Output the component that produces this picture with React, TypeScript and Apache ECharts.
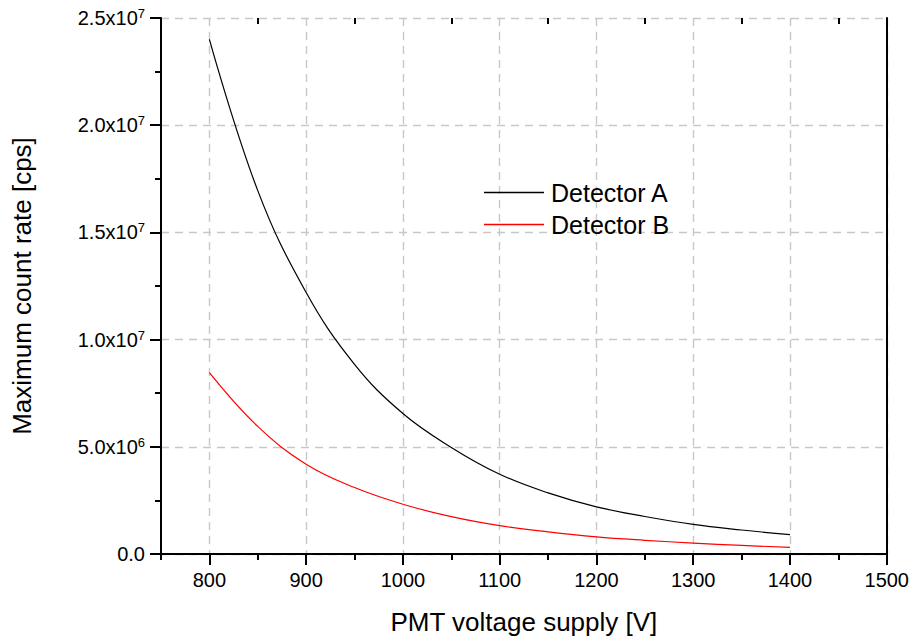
import React, { useEffect, useRef } from "react";
import * as echarts from "echarts";

const voltages = [800, 850, 900, 950, 1000, 1050, 1100, 1150, 1200, 1250, 1300, 1350, 1400];
const detectorA = [24.0e6, 16.95e6, 12.2e6, 8.85e6, 6.55e6, 4.97e6, 3.72e6, 2.85e6, 2.2e6, 1.75e6, 1.38e6, 1.12e6, 0.9e6];
const detectorB = [8.46e6, 5.95e6, 4.19e6, 3.1e6, 2.32e6, 1.74e6, 1.32e6, 1.03e6, 0.8e6, 0.64e6, 0.51e6, 0.4e6, 0.31e6];

const xMajorTicks = [800, 900, 1000, 1100, 1200, 1300, 1400, 1500];
const xMinorTicks = [750, 850, 950, 1050, 1150, 1250, 1350, 1450];
const yMajorTicks = [0, 5e6, 1e7, 1.5e7, 2e7, 2.5e7];
const yMinorTicks = [2.5e6, 7.5e6, 1.25e7, 1.75e7, 2.25e7];

const seriesNames = ["Detector A", "Detector B"];
const seriesColors = ["#000000", "#ff0000"];
const FONT = "Arial, 'Liberation Sans', sans-serif";

function yLabel(v: number): string {
  if (v === 0) return "0.0";
  const exp = Math.floor(Math.log10(v) + 1e-9);
  const mant = v / Math.pow(10, exp);
  return `{b|${mant.toFixed(1)}x10}{s|${exp}}`;
}

function curveSeries(name: string, values: number[], color: string) {
  return {
    name,
    type: "custom",
    coordinateSystem: "cartesian2d",
    xAxisIndex: 0,
    yAxisIndex: 0,
    data: voltages.map((v, i) => [v, values[i]]),
    itemStyle: { color },
    silent: true,
    renderItem: (params: any, api: any) => {
      if (params.dataIndex !== 0) return null;
      const pts = voltages.map((v, i) => api.coord([v, values[i]]));
      return {
        type: "polyline",
        shape: { points: pts, smooth: 0.4 },
        style: { stroke: color, lineWidth: 1.2, fill: null },
      };
    },
  };
}

export default function App() {
  const ref = useRef<HTMLDivElement>(null);
  useEffect(() => {
    if (!ref.current) return;
    const chart = echarts.init(ref.current, null, { renderer: "svg" });
    const axisLine = { show: true, lineStyle: { color: "#000", width: 2 } };
    const tickStyle = { color: "#000", width: 2 };
    const splitDashed = { show: true, lineStyle: { color: "#c8c8c8", width: 1.4, type: [8, 6] as any } };
    const option: any = {
      animation: false,
      backgroundColor: "#fff",
      grid: { left: 161, right: 25, top: 18, bottom: 85 },
      legend: {
        orient: "vertical",
        left: 479,
        top: 175,
        icon: "rect",
        itemWidth: 60,
        itemHeight: 1.5,
        itemGap: 7,
        data: seriesNames,
        textStyle: { fontSize: 25, fontFamily: FONT, color: "#000", padding: [0, 0, 0, 2] },
      },
      xAxis: [
        {
          type: "value", position: "bottom", min: 750, max: 1500, interval: 50,
          axisLine,
          axisTick: { show: true, length: 11, lineStyle: tickStyle, customValues: xMajorTicks },
          axisLabel: {
            show: true, customValues: xMajorTicks, margin: 16, fontSize: 20, fontFamily: FONT, color: "#000",
            formatter: (v: number) => String(v),
          },
          splitLine: splitDashed,
          name: "PMT voltage supply [V]",
          nameLocation: "middle",
          nameGap: 55,
          nameTextStyle: { fontSize: 26, fontFamily: FONT, color: "#000" },
        },
        {
          type: "value", position: "bottom", min: 750, max: 1500, interval: 50,
          axisLine: { show: false },
          axisTick: { show: true, length: 6, lineStyle: tickStyle, customValues: xMinorTicks },
          axisLabel: { show: false },
          splitLine: { show: false },
        },
        {
          type: "value", position: "top", min: 750, max: 1500, interval: 50,
          axisLine,
          axisTick: { show: true, inside: true, length: 11, lineStyle: tickStyle, customValues: xMajorTicks },
          axisLabel: { show: false },
          splitLine: { show: false },
        },
        {
          type: "value", position: "top", min: 750, max: 1500, interval: 50,
          axisLine: { show: false },
          axisTick: { show: true, inside: true, length: 6, lineStyle: tickStyle, customValues: xMinorTicks },
          axisLabel: { show: false },
          splitLine: { show: false },
        },
      ],
      yAxis: [
        {
          type: "value", position: "left", min: 0, max: 2.5e7, interval: 2.5e6,
          axisLine,
          axisTick: { show: true, length: 11, lineStyle: tickStyle, customValues: yMajorTicks },
          axisLabel: {
            show: true, customValues: yMajorTicks, margin: 16, fontSize: 20, fontFamily: FONT, color: "#000",
            formatter: yLabel,
            rich: {
              b: { fontSize: 20, fontFamily: FONT, color: "#000", lineHeight: 22 },
              s: { fontSize: 13, fontFamily: FONT, color: "#000", lineHeight: 22, verticalAlign: "top" },
            },
          },
          splitLine: splitDashed,
          name: "Maximum count rate [cps]",
          nameLocation: "middle",
          nameGap: 126,
          nameRotate: 90,
          nameTextStyle: { fontSize: 26, fontFamily: FONT, color: "#000" },
        },
        {
          type: "value", position: "left", min: 0, max: 2.5e7, interval: 2.5e6,
          axisLine: { show: false },
          axisTick: { show: true, length: 6, lineStyle: tickStyle, customValues: yMinorTicks },
          axisLabel: { show: false },
          splitLine: { show: false },
        },
        {
          type: "value", position: "right", min: 0, max: 2.5e7, interval: 2.5e6,
          axisLine,
          axisTick: { show: false },
          axisLabel: { show: false },
          splitLine: { show: false },
        },
      ],
      series: [
        curveSeries(seriesNames[0], detectorA, seriesColors[0]),
        curveSeries(seriesNames[1], detectorB, seriesColors[1]),
      ],
    };
    chart.setOption(option);
    return () => chart.dispose();
  }, []);
  return <div ref={ref} style={{ position: "fixed", left: 0, top: 0, width: 912, height: 640 }} />;
}
